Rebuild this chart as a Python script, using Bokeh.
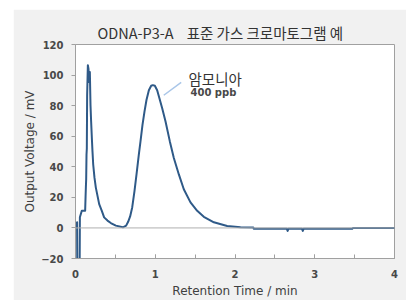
from bokeh.plotting import figure
from bokeh.models import Range1d, SingleIntervalTicker, Span, Label
from bokeh.embed import file_html
from bokeh.resources import INLINE

# Chromatogram data
time_min = [0.000, 0.020, 0.022, 0.052, 0.055, 0.079, 0.121, 0.126, 0.130, 0.134,
            0.138, 0.142, 0.146, 0.155, 0.163, 0.171, 0.180, 0.188, 0.196, 0.205,
            0.213, 0.222, 0.238, 0.255, 0.276, 0.297, 0.330, 0.359, 0.401, 0.443,
            0.506, 0.595, 0.635, 0.660, 0.685, 0.711, 0.740, 0.765, 0.794, 0.815,
            0.840, 0.865, 0.890, 0.920, 0.949, 0.970, 0.995, 1.024, 1.053, 1.087,
            1.129, 1.183, 1.233, 1.296, 1.358, 1.442, 1.526, 1.609, 1.735, 1.902,
            2.069, 2.230, 2.235, 2.650, 2.660, 2.670, 2.840, 2.850, 2.860, 3.470,
            3.480, 4.000]
voltage_mv = [0.0, 3.7, -25.0, -25.0, 7.0, 11.2, 11.2, 20.0, 26.4, 32.0,
              47.9, 52.0, 86.9, 106.4, 104.0, 95.4, 102.0, 80.4, 69.6, 58.8,
              50.1, 41.5, 32.9, 26.4, 21.0, 15.6, 11.2, 6.9, 4.8, 3.2,
              1.5, 0.4, 1.5, 4.0, 7.5, 13.4, 24.2, 35.0, 48.0, 56.6,
              67.4, 76.1, 83.7, 90.1, 93.0, 93.4, 93.0, 90.1, 84.7, 78.3,
              69.6, 56.6, 45.8, 35.0, 25.3, 16.7, 11.2, 7.3, 3.7, 1.3,
              0.4, 0.3, -0.6, -0.6, -2.0, -0.6, -0.6, -2.0, -0.6, -0.6,
              0.0, 0.0]

NB = "\u00a0"
title_text = "ODNA-P3-A" + NB * 4 + "표준 가스 크로마토그램 예"
peak_name = "암모니아"
peak_conc = "400 ppb"
x_label = "Retention Time / min"
y_label = "Output Voltage / mV"

p = figure(width=393, height=291, output_backend="svg", toolbar_location=None,
           x_range=Range1d(0, 4), y_range=Range1d(-20, 120),
           min_border_left=62, min_border_right=12, min_border_top=35, min_border_bottom=41)
p.margin = (9, 0, 0, 13)
p.border_fill_color = "#f1f1f1"
p.background_fill_color = "white"
p.outline_line_color = "#a0a0a0"
p.grid.visible = False

p.title.text = title_text
p.title.text_font = "Noto Sans CJK KR"
p.title.text_font_size = "14.5px"
p.title.text_font_style = "normal"
p.title.text_color = "#333333"
p.title.align = "left"
p.title.offset = 22
p.title.standoff = 4

# zero line
p.add_layout(Span(location=0, dimension="width", line_color="#b0b0b0", line_width=1))

p.line(time_min, voltage_mv, line_color="#2f5a88", line_width=2, line_join="round")

# annotation
p.segment(x0=[1.107], y0=[86.8], x1=[1.325], y1=[95.2], line_color="#a9c6e8", line_width=1.5)
p.add_layout(Label(x=1.417, y=97.6, text=peak_name, text_font="Noto Sans CJK KR",
                   text_font_size="14.5px", text_color="#333333", text_baseline="middle"))
p.add_layout(Label(x=1.442, y=88.3, text=peak_conc, text_font="DejaVu Sans",
                   text_font_size="10px", text_font_style="bold", text_color="#484848",
                   text_baseline="middle"))

xa = p.xaxis[0]
xa.ticker = SingleIntervalTicker(interval=1, num_minor_ticks=2)
xa.major_tick_in = 4
xa.major_tick_out = 0
xa.minor_tick_in = 4
xa.minor_tick_out = 0
xa.axis_label = x_label
ya = p.yaxis[0]
ya.ticker = SingleIntervalTicker(interval=20, num_minor_ticks=0)
ya.major_tick_in = 0
ya.major_tick_out = 4
ya.minor_tick_line_color = None
ya.axis_label = y_label

for ax in (xa, ya):
    ax.axis_line_color = "#a0a0a0"
    ax.major_tick_line_color = "#a0a0a0"
    ax.major_label_text_font = "DejaVu Sans"
    ax.major_label_text_font_size = "10px"
    ax.major_label_text_font_style = "bold"
    ax.major_label_text_color = "#484848"
    ax.axis_label_text_font = "DejaVu Sans"
    ax.axis_label_text_font_size = "12px"
    ax.axis_label_text_font_style = "normal"
    ax.axis_label_text_color = "#404040"
xa.minor_tick_line_color = "#a0a0a0"
xa.major_label_standoff = 11
xa.axis_label_standoff = 3
ya.major_label_standoff = 8
ya.axis_label_standoff = 1

open("out.html", "w").write(file_html(p, INLINE))
